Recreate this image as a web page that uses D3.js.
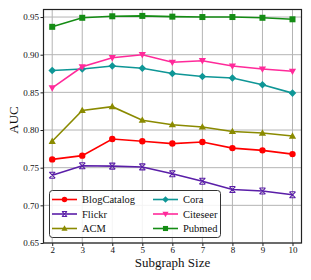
<!DOCTYPE html>
<html><head><meta charset="utf-8">
<script src="https://cdn.jsdelivr.net/npm/d3@7"></script>
<style>body{margin:0;background:#fff}svg{display:block}</style>
</head><body>
<svg id="c" width="311" height="280"></svg>
<script>
const sizes = [2,3,4,5,6,7,8,9,10];
const blogCatalog = [0.761,0.766,0.788,0.785,0.782,0.784,0.776,0.773,0.768];
const flickr      = [0.740,0.7525,0.752,0.751,0.742,0.732,0.721,0.719,0.714];
const acm         = [0.785,0.826,0.831,0.813,0.807,0.804,0.798,0.796,0.792];
const cora        = [0.879,0.881,0.885,0.882,0.875,0.871,0.869,0.860,0.849];
const citeseer    = [0.856,0.884,0.896,0.900,0.890,0.892,0.885,0.881,0.878];
const pubmed      = [0.937,0.949,0.951,0.9515,0.9505,0.950,0.950,0.949,0.947];
const yTicks = [0.65,0.70,0.75,0.80,0.85,0.90,0.95];
const seriesNames = ["BlogCatalog","Flickr","ACM","Cora","Citeseer","Pubmed"];

const series = [
  {name:seriesNames[0], values:blogCatalog, color:"#ff0000", marker:"circle"},
  {name:seriesNames[1], values:flickr, color:"#5a1ea8", marker:"x"},
  {name:seriesNames[2], values:acm, color:"#8a8a00", marker:"tri"},
  {name:seriesNames[3], values:cora, color:"#0e9696", marker:"diamond"},
  {name:seriesNames[4], values:citeseer, color:"#ff2a9a", marker:"tridown"},
  {name:seriesNames[5], values:pubmed, color:"#148c14", marker:"square"}
];

const svg = d3.select("#c");
const L=43.5, R=301.5, T=9.5, B=243;
const x = d3.scaleLinear().domain([1.71,10.3]).range([L,R]);
const y = d3.scaleLinear().domain([0.65,0.96]).range([B,T]);
const font = "'Liberation Serif','Times New Roman',serif";

// grid
const g = svg.append("g");
g.selectAll("line.vx").data(sizes).join("line")
  .attr("x1",d=>x(d)).attr("x2",d=>x(d)).attr("y1",T).attr("y2",B)
  .attr("stroke","#b4b4b4").attr("stroke-width",1);
g.selectAll("line.hy").data(yTicks).join("line")
  .attr("y1",d=>y(d)).attr("y2",d=>y(d)).attr("x1",L).attr("x2",R)
  .attr("stroke","#b4b4b4").attr("stroke-width",1);

// axes
const xAxis = d3.axisBottom(x).tickValues(sizes).tickSize(3).tickPadding(0.5).tickFormat(d3.format("d"));
const yAxis = d3.axisLeft(y).tickValues(yTicks).tickSize(3).tickPadding(1.5).tickFormat(d3.format(".2f"));
const gx = svg.append("g").attr("transform",`translate(0,${B})`).call(xAxis);
const gy = svg.append("g").attr("transform",`translate(${L},0)`).call(yAxis);
[gx,gy].forEach(a=>{
  a.select(".domain").remove();
  a.selectAll("line").attr("stroke","#222");
  a.selectAll("text").attr("font-family",font).attr("font-size",9).attr("fill","#111");
});

// markers
function drawMarker(sel, type, color, s) {
  if (type==="circle") sel.append("circle").attr("r",3.2*s).attr("fill",color);
  else if (type==="square") sel.append("rect").attr("x",-3*s).attr("y",-3*s).attr("width",6*s).attr("height",6*s).attr("fill",color);
  else if (type==="diamond") sel.append("path").attr("d",`M0,${-3.8*s}L${3.8*s},0L0,${3.8*s}L${-3.8*s},0Z`).attr("fill",color);
  else if (type==="tri") sel.append("path").attr("d",`M0,${-3.8*s}L${3.6*s},${2.6*s}L${-3.6*s},${2.6*s}Z`).attr("fill",color);
  else if (type==="tridown") sel.append("path").attr("d",`M0,${3.8*s}L${3.6*s},${-2.6*s}L${-3.6*s},${-2.6*s}Z`).attr("fill",color);
  else if (type==="x") sel.append("path").attr("d",`M${-3*s},${-3*s}L${3*s},${3*s}M${-3*s},${3*s}L${3*s},${-3*s}M${-3*s},${-3*s}L${3*s},${-3*s}M${-3*s},${3*s}L${3*s},${3*s}`)
      .attr("stroke",color).attr("stroke-width",1.1).attr("fill","none");
}

const line = d3.line().x((d,i)=>x(sizes[i])).y(d=>y(d));
series.forEach(s=>{
  svg.append("path").attr("d",line(s.values)).attr("fill","none")
    .attr("stroke",s.color).attr("stroke-width",1.6);
  s.values.forEach((v,i)=>{
    const m = svg.append("g").attr("transform",`translate(${x(sizes[i])},${y(v)})`);
    drawMarker(m, s.marker, s.color, 1);
  });
});

// frame
svg.append("rect").attr("x",L).attr("y",T).attr("width",R-L).attr("height",B-T)
  .attr("fill","none").attr("stroke","#222").attr("stroke-width",1.2);

// legend
const lg = svg.append("g");
lg.append("rect").attr("x",49.5).attr("y",190.5).attr("width",171).attr("height",47).attr("rx",3)
  .attr("fill","rgba(255,255,255,0.85)").attr("stroke","#333").attr("stroke-width",1);
const rowY = [199.5,214,228.5];
series.forEach((s,i)=>{
  const col = Math.floor(i/3), row = i%3;
  const x0 = col===0 ? 52 : 153;
  const yy = rowY[row];
  lg.append("line").attr("x1",x0).attr("x2",x0+25).attr("y1",yy).attr("y2",yy)
    .attr("stroke",s.color).attr("stroke-width",1.6);
  const m = lg.append("g").attr("transform",`translate(${x0+12.5},${yy})`);
  drawMarker(m, s.marker, s.color, 0.85);
  lg.append("text").attr("x",x0+30).attr("y",yy).attr("dy","0.35em")
    .attr("font-family",font).attr("font-size",10.5).attr("fill","#111").text(s.name);
});

// axis labels
svg.append("text").attr("x",172.5).attr("y",267).attr("text-anchor","middle")
  .attr("font-family",font).attr("font-size",13).attr("fill","#111").text("Subgraph Size");
svg.append("text").attr("transform","translate(18,120) rotate(-90)").attr("text-anchor","middle")
  .attr("font-family",font).attr("font-size",13).attr("fill","#111").text("AUC");
</script>
</body></html>
